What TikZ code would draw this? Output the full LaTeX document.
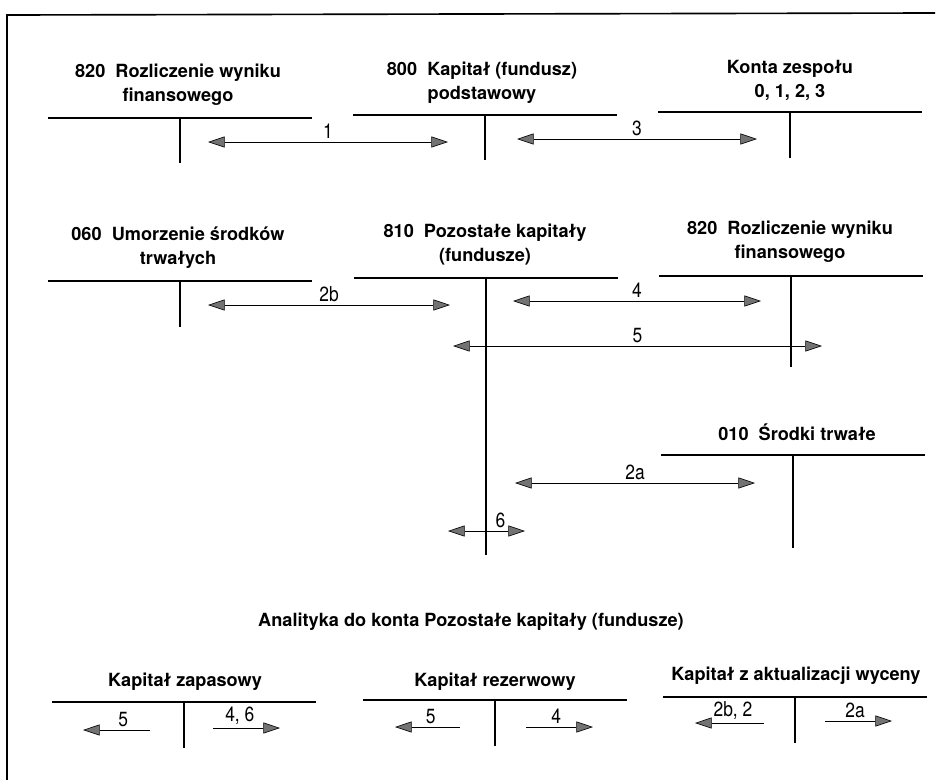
\documentclass[tikz,border=0pt]{standalone}
\usepackage{fontspec}
\setmainfont{TeX Gyre Heros}
\newfontfamily\numfont{TeX Gyre Heros}[FakeStretch=0.85]
\usetikzlibrary{arrows.meta}

\tikzset{
  title/.style={font=\fontsize{15.5}{20.5}\selectfont\bfseries,align=center,inner sep=0pt},
  num/.style={font=\numfont\fontsize{17.5}{20}\selectfont,inner sep=2.5pt,above},
  gtip/.tip={Triangle[length=0.5cm,width=0.33cm,fill=black!55,line width=0.5pt]},
  flow/.style={gtip-gtip,line width=0.8pt},
  flowr/.style={-gtip,line width=0.8pt},
}

\begin{document}
\begin{tikzpicture}[x=0.03cm,y=-0.03cm,line width=1.1pt]
  \useasboundingbox (0,0) rectangle (940,780);
  % frame
  \draw[line width=1.4pt] (935,13) -- (7,15) -- (7,780);

  % T-accounts: centre x / line y / end of the stem
  \foreach \cx/\ly/\ld in {180/118/163,485/115/160,790/112/158,
                           180/281/327,486/278/555,791/276/367,793/455/548,
                           184/702/748,495/700/746,795/697/743}{
    \draw (\cx-132,\ly) -- (\cx+132,\ly);
    \draw (\cx,\ly) -- (\cx,\ld);
  }

  % account titles
  \node[title,anchor=south] (k820a) at (178,106) {820\ \ Rozliczenie wyniku\\finansowego};
  \node[title,anchor=south] (k800) at (482,104) {800\ \ Kapitał (fundusz)\\podstawowy};
  \node[title,anchor=south] (kzesp) at (790,101) {Konta zespołu\\0, 1, 2, 3};
  \node[title,anchor=south] (k060) at (178,269) {060\ \ Umorzenie środków\\trwałych};
  \node[title,anchor=south] (k810) at (485,266) {810\ \ Pozostałe kapitały\\(fundusze)};
  \node[title,anchor=south] (k820b) at (790,263) {820\ \ Rozliczenie wyniku\\finansowego};
  \node[title,anchor=base] (k010) at (797,440) {010\ \ Środki trwałe};
  \node[title,anchor=base] (anal) at (471,626) {Analityka do konta Pozostałe kapitały (fundusze)};
  \node[title,anchor=base] (kzap) at (185,686) {Kapitał zapasowy};
  \node[title,anchor=base] (krez) at (495,686) {Kapitał rezerwowy};
  \node[title,anchor=base] (kakt) at (796,680) {Kapitał z aktualizacji wyceny};

  % flows between the accounts
  \coordinate (a1l) at (208,142); \coordinate (a1r) at (448,142);
  \coordinate (a3l) at (517,139); \coordinate (a3r) at (757,139);
  \coordinate (b2l) at (208,305); \coordinate (b2r) at (450,305);
  \coordinate (a4l) at (513,301); \coordinate (a4r) at (761,301);
  \coordinate (a5l) at (453,346); \coordinate (a5r) at (822,346);
  \coordinate (c2l) at (515,483); \coordinate (c2r) at (755,483);
  \coordinate (a6l) at (448,531); \coordinate (a6r) at (525,531);
  \draw[flow] (a1l) -- node[num] {1} (a1r);
  \draw[flow] (a3l) -- node[num] {3} (a3r);
  \draw[flow] (b2l) -- node[num] {2b} (b2r);
  \draw[flow] (a4l) -- node[num] {4} (a4r);
  \draw[flow] (a5l) -- node[num] {5} (a5r);
  \draw[flow] (c2l) -- node[num] {2a} (c2r);
  \draw[flow] (a6l) -- node[num,pos=0.68] {6} (a6r);

  % analytic accounts
  \coordinate (z5a) at (150,730); \coordinate (z5b) at (83,730);
  \coordinate (z4a) at (213,728); \coordinate (z4b) at (280,728);
  \coordinate (r5a) at (460,727); \coordinate (r5b) at (395,727);
  \coordinate (r4a) at (526,727); \coordinate (r4b) at (593,727);
  \coordinate (w2a) at (764,723); \coordinate (w2b) at (695,723);
  \coordinate (wa) at (825,721); \coordinate (wb) at (892,721);
  \draw[flowr] (z5a) -- node[num,pos=0.4] {5} (z5b);
  \draw[flowr] (z4a) -- node[num,pos=0.4] {4, 6} (z4b);
  \draw[flowr] (r5a) -- node[num,pos=0.45] {5} (r5b);
  \draw[flowr] (r4a) -- node[num,pos=0.45] {4} (r4b);
  \draw[flowr] (w2a) -- node[num,pos=0.45] {2b, 2} (w2b);
  \draw[flowr] (wa) -- node[num,pos=0.45] {2a} (wb);
\end{tikzpicture}
\end{document}
